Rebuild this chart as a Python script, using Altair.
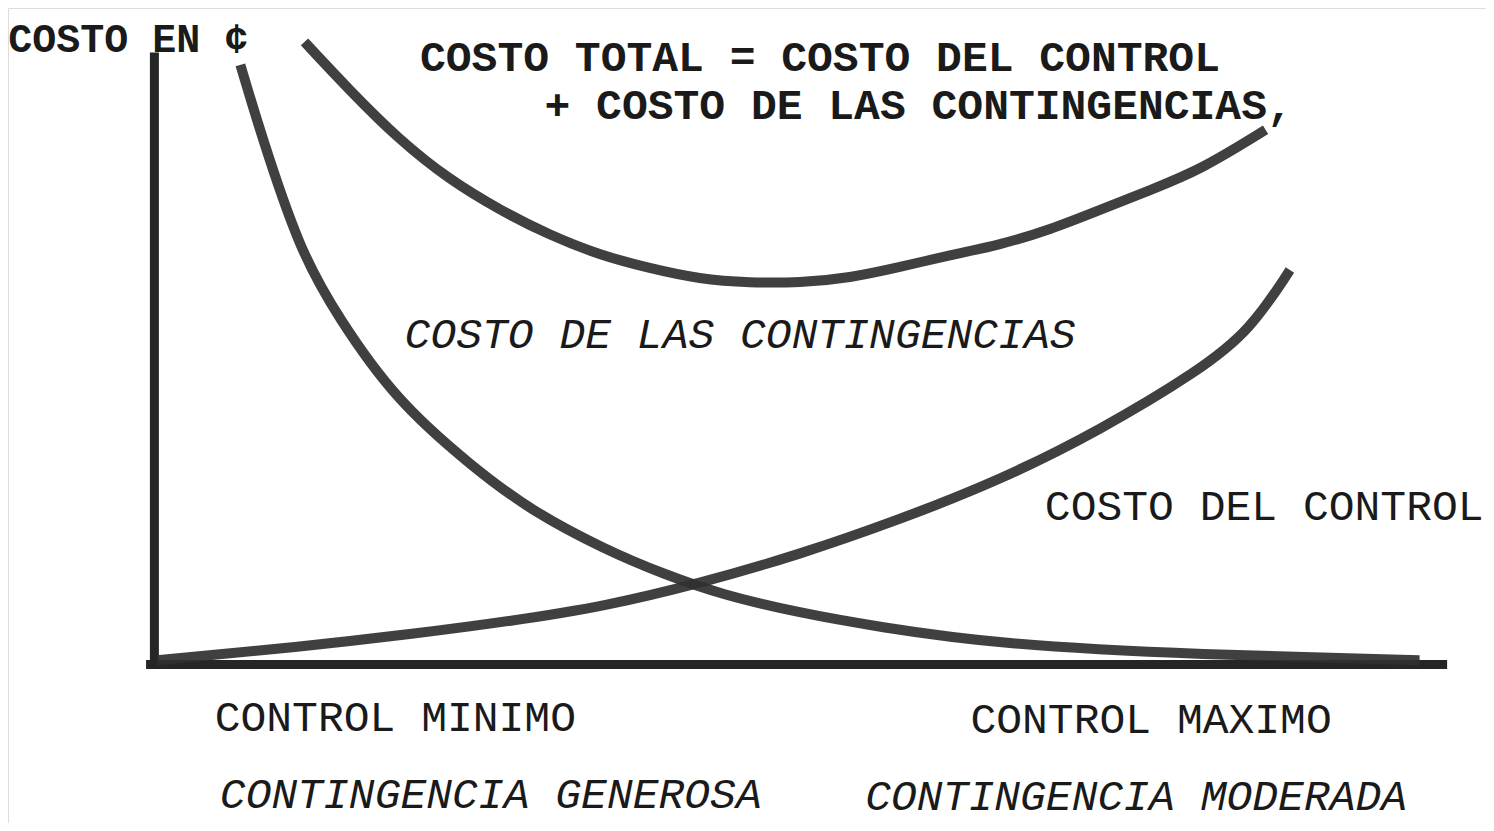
import altair as alt
import pandas as pd

# Curve values (x: level of control 0-100, y: cost 0-100)
cont_x = [6.5, 8.0, 11.1, 14.1, 18.6, 24.6, 29.1, 35.0, 39.5, 44.0, 50.0, 56.0, 65.7, 81.3, 98.4]
cont_y = [99.2, 88.4, 68.4, 57.3, 43.5, 32.4, 25.2, 18.6, 14.6, 11.2, 8.2, 5.9, 2.9, 1.2, 0.3]

ctrl_x = [0.0, 11.1, 20.1, 27.6, 35.0, 42.2, 50.0, 57.8, 65.7, 73.5, 81.3, 85.2, 88.3]
ctrl_y = [0.3, 2.5, 4.7, 6.8, 9.3, 13.0, 17.8, 23.6, 30.2, 38.5, 48.5, 55.1, 65.1]

total_x = [11.5, 15.0, 18.9, 22.8, 26.7, 30.6, 34.5, 38.4, 42.3, 46.2, 50.1, 54.0,
           57.9, 61.8, 65.7, 69.6, 73.5, 77.4, 81.3, 86.4]
total_y = [103.0, 95.0, 86.7, 80.1, 75.1, 70.9, 67.6, 65.4, 63.6, 63.0, 63.0, 63.8,
           65.6, 67.6, 69.3, 71.8, 75.1, 78.4, 81.7, 88.4]

label_texts = ["COSTO EN ¢",
               "COSTO TOTAL = COSTO DEL CONTROL",
               "+ COSTO DE LAS CONTINGENCIAS,",
               "COSTO DE LAS CONTINGENCIAS",
               "COSTO DEL CONTROL",
               "CONTROL MINIMO",
               "CONTROL MAXIMO",
               "CONTINGENCIA GENEROSA",
               "CONTINGENCIA MODERADA"]

# layout of labels (in chart data units)
label_x = [-11.6, 20.5, 30.2, 19.3, 69.2, 4.5, 63.4, 4.9, 55.2]
label_y = [103.3, 100.3, 92.4, 54.3, 25.7, -9.3, -9.6, -22.1, -22.4]
label_style = ["head", "bold", "bold", "italic", "plain", "plain", "plain", "italic", "italic"]

curves = pd.concat([
    pd.DataFrame({"x": cont_x, "y": cont_y, "serie": "contingencias", "o": range(len(cont_x))}),
    pd.DataFrame({"x": ctrl_x, "y": ctrl_y, "serie": "control", "o": range(len(ctrl_x))}),
    pd.DataFrame({"x": total_x, "y": total_y, "serie": "total", "o": range(len(total_x))}),
])

labels = pd.DataFrame({"t": label_texts, "x": label_x, "y": label_y, "s": label_style})

xs = alt.Scale(domain=[-11.61, 103.58], nice=False, zero=False)
ys = alt.Scale(domain=[-26.74, 108.64], nice=False, zero=False)
X = lambda f: alt.X(f, type="quantitative", scale=xs, axis=None)
Y = lambda f: alt.Y(f, type="quantitative", scale=ys, axis=None)

axes = pd.DataFrame({"x": [-0.5, -0.2], "x2": [100.2, -0.2], "y": [-0.4, -0.4], "y2": [-0.4, 100.5]})

axis_rules = alt.Chart(axes).mark_rule(color="#262626", strokeWidth=9, strokeCap="square").encode(
    x=X("x"), x2="x2", y=Y("y"), y2="y2")

lines = alt.Chart(curves).mark_line(
    color="#303030", strokeWidth=10, interpolate="basis", opacity=0.92
).encode(x=X("x"), y=Y("y"), detail="serie:N", order="o:Q")

def txt(style, size, weight, fstyle):
    return alt.Chart(labels).transform_filter(alt.datum.s == style).mark_text(
        align="left", baseline="middle", font="Liberation Mono", fontSize=size,
        fontWeight=weight, fontStyle=fstyle, color="#1a1a1a"
    ).encode(x=X("x"), y=Y("y"), text="t:N")

chart = alt.layer(
    axis_rules, lines,
    txt("head", 40, "bold", "normal"),
    txt("bold", 43, "bold", "normal"),
    txt("italic", 43, "normal", "italic"),
    txt("plain", 43, "normal", "normal"),
).properties(
    width=1478, height=815, padding=0,
    autosize=alt.AutoSizeParams(type="fit", contains="padding"),
).configure_view(stroke=None).configure(background="white")

chart.save("out.html", embed_options={"renderer": "svg", "actions": False})
